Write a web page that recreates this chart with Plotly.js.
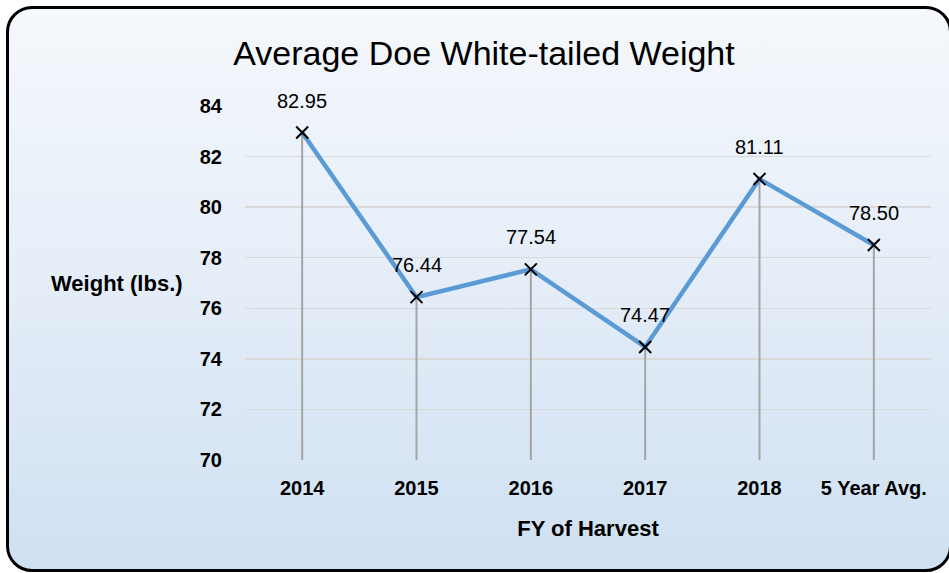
<!DOCTYPE html>
<html>
<head>
<meta charset="utf-8">
<script src="https://cdn.plot.ly/plotly-3.0.1.min.js"></script>
<style>
  html, body { margin: 0; padding: 0; width: 949px; height: 573px; overflow: hidden; background: #ffffff; }
  #frame {
    position: absolute; left: 6px; top: 6px; width: 940px; height: 560px;
    border: 3px solid #000; border-radius: 26px;
    background: linear-gradient(to bottom, #f5f8fc 0%, #e6eef8 45%, #cfe0f2 100%);
  }
  #chart { position: absolute; left: 0; top: 0; width: 949px; height: 573px; }
</style>
</head>
<body>
<div id="frame"></div>
<div id="chart"></div>
<script>
const categories = ["2014", "2015", "2016", "2017", "2018", "5 Year Avg."];
const weights = [82.95, 76.44, 77.54, 74.47, 81.11, 78.50];
const yTicks = [70, 72, 74, 76, 78, 80, 82, 84];
const titleText = "Average Doe White-tailed Weight";
const xTitle = "FY of Harvest";
const yTitle = "Weight (lbs.)";
const yMin = 70, yMax = 84;

const FONT = "Liberation Sans, Arial, sans-serif";

// drop lines from each point down to the axis floor
const dropX = [], dropY = [];
categories.forEach((c, i) => { dropX.push(c, c, null); dropY.push(yMin, weights[i], null); });

const traces = [
  { x: dropX, y: dropY, type: "scatter", mode: "lines",
    line: { color: "#a5a5a5", width: 2 }, hoverinfo: "skip", showlegend: false },
  { x: categories, y: weights, type: "scatter", mode: "lines+markers",
    line: { color: "#5b9bd5", width: 4.5 },
    marker: { symbol: "x-thin", size: 12, color: "#000", line: { color: "#000", width: 2 } },
    showlegend: false }
];

// category index used as annotation x (numeric-looking names would be read as positions)
const annotations = categories.map((c, i) => ({
  x: i, y: weights[i], xref: "x", yref: "y", text: weights[i].toFixed(2),
  showarrow: false, yshift: 32, font: { family: FONT, size: 20, color: "#000" }
}));
annotations.push({
  xref: "paper", yref: "y", x: 0, y: 77, xanchor: "right", xshift: -60,
  text: "<b>" + yTitle + "</b>", showarrow: false,
  font: { family: FONT, size: 22, color: "#000" }
});

const layout = {
  width: 949, height: 573,
  paper_bgcolor: "rgba(0,0,0,0)", plot_bgcolor: "rgba(0,0,0,0)",
  margin: { l: 245, r: 18, t: 106, b: 113 },
  font: { family: FONT, color: "#000" },
  title: { text: titleText, font: { family: FONT, size: 34, color: "#000" },
           xref: "container", x: 0.51, xanchor: "center", yref: "container", y: 0.908, yanchor: "middle" },
  xaxis: {
    type: "category", range: [-0.5, 5.5], showgrid: false, showline: false, zeroline: false,
    ticks: "", tickfont: { family: FONT, size: 20, color: "#000", weight: "bold" },
    ticklabelstandoff: 14,
    title: { text: "<b>" + xTitle + "</b>", font: { family: FONT, size: 22, color: "#000" }, standoff: 22 }
  },
  yaxis: {
    range: [yMin, yMax], tickvals: yTicks, ticktext: yTicks.map(String),
    showgrid: true, gridcolor: "#d9d9d9", gridwidth: 1.5, zeroline: false, showline: false,
    ticks: "", tickfont: { family: FONT, size: 20, color: "#000", weight: "bold" },
    ticklabelstandoff: 22
  },
  annotations: annotations
};

Plotly.newPlot("chart", traces, layout, { displayModeBar: false, staticPlot: true });
</script>
</body>
</html>
